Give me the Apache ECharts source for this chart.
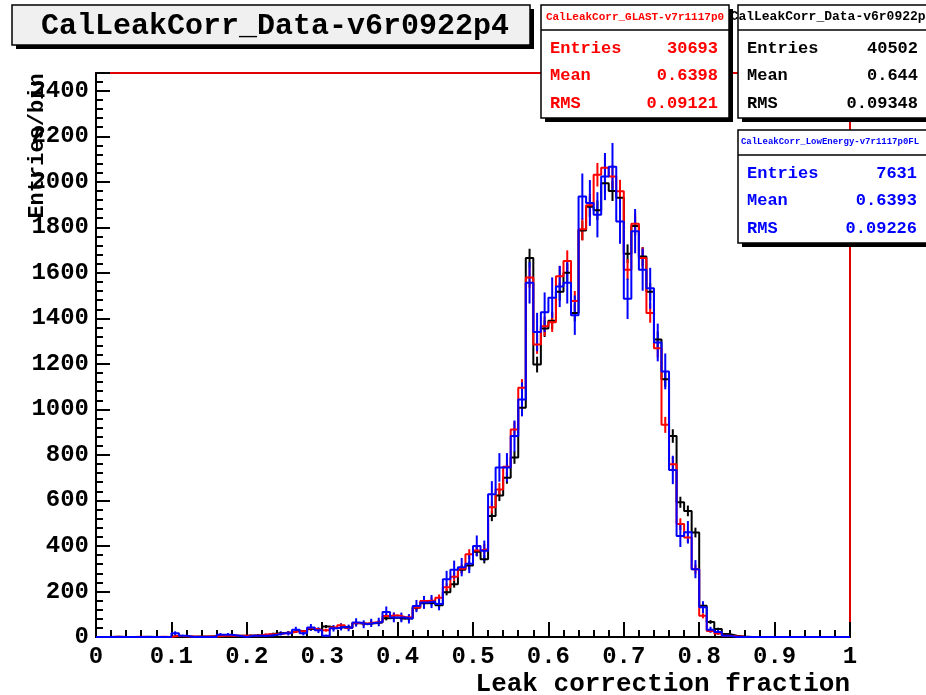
<!DOCTYPE html>
<html>
<head>
<meta charset="utf-8">
<script src="https://cdn.jsdelivr.net/npm/echarts@6/dist/echarts.min.js"></script>
<style>
  html, body { margin: 0; padding: 0; background: #fff; }
  #chart { width: 926px; height: 695px; }
</style>
</head>
<body>
<div id="chart"></div>
<script>
// 100 bins of 0.01 from 0 to 1, counts scaled to the Data histogram
const binWidth = 0.01;

// black: CalLeakCorr_Data-v6r0922p4
const dataV6 = [
  0, 0, 1, 0, 0, 0, 1, 0, 0, 1,
  3, 2, 1, 2, 2, 3, 4, 6, 5, 6,
  7, 8, 10, 15, 18, 20, 28, 24, 35, 32,
  46, 38, 44, 42, 60, 58, 60, 64, 82, 86,
  80, 82, 128, 148, 150, 140, 197, 232, 296, 314,
  375, 342, 532, 622, 700, 789, 1007, 1665, 1197, 1355,
  1390, 1517, 1600, 1424, 1786, 1890, 1875, 1994, 1960, 1930,
  1684, 1806, 1672, 1517, 1307, 1133, 883, 592, 554, 459,
  137, 66, 35, 13, 6, 2, 0, 0, 0, 0,
  0, 0, 0, 0, 0, 0, 0, 0, 0, 0
];

// red: CalLeakCorr_GLAST-v7r1117p0
const glastV7 = [
  0, 0, 1, 0, 0, 1, 0, 0, 1, 0,
  5, 3, 2, 1, 2, 2, 5, 5, 6, 5,
  6, 8, 12, 12, 15, 20, 25, 25, 38, 30,
  30, 42, 52, 40, 62, 58, 64, 66, 92, 96,
  88, 86, 130, 158, 160, 172, 219, 265, 300, 364,
  380, 386, 570, 648, 748, 912, 1095, 1580, 1285, 1365,
  1383, 1585, 1652, 1476, 1791, 1897, 2031, 2062, 2023, 1958,
  1614, 1816, 1665, 1424, 1269, 932, 759, 496, 437, 298,
  93, 26, 15, 6, 3, 1, 0, 0, 0, 0,
  0, 0, 0, 0, 0, 0, 0, 0, 0, 0
];

// blue: CalLeakCorr_LowEnergy-v7r1117p0FL
const lowEnergyV7 = [
  0, 0, 0, 0, 0, 0, 0, 0, 0, 0,
  16, 5, 0, 0, 0, 0, 10, 10, 5, 0,
  5, 5, 5, 10, 16, 16, 32, 16, 42, 30,
  5, 38, 44, 40, 64, 56, 62, 66, 110, 86,
  86, 80, 136, 152, 156, 145, 254, 296, 307, 322,
  400, 379, 627, 745, 745, 883, 1044, 1556, 1340, 1427,
  1491, 1540, 1556, 1414, 1935, 1907, 1855, 2023, 2066, 1826,
  1486, 1783, 1614, 1532, 1294, 1167, 734, 444, 460, 298,
  131, 32, 22, 6, 0, 0, 0, 0, 0, 0,
  0, 0, 0, 0, 0, 0, 0, 0, 0, 0
];

const histNames = ["CalLeakCorr_Data-v6r0922p4", "CalLeakCorr_GLAST-v7r1117p0", "CalLeakCorr_LowEnergy-v7r1117p0FL"];
const histColors = ["#000000", "#ff0000", "#0000ff"];
const entries = [40502, 30693, 7631];
const means = ["0.644", "0.6398", "0.6393"];
const rmsValues = ["0.09348", "0.09121", "0.09226"];

const xTickLabels = ["0", "0.1", "0.2", "0.3", "0.4", "0.5", "0.6", "0.7", "0.8", "0.9", "1"];
const yMax = 2478;

const FONT = "Liberation Mono";

var chart = echarts.init(document.getElementById("chart"), null, { renderer: "canvas" });

function stepData(values) {
  var pts = [];
  for (var i = 0; i < values.length; i++) {
    pts.push([i * binWidth, values[i]]);
  }
  pts.push([values.length * binWidth, values[values.length - 1]]);
  return pts;
}

// error bars: sqrt(N) of the raw counts, scaled like the histogram
function errorData(values, nEntries) {
  var scale = entries[0] / nEntries;
  var bars = [];
  for (var i = 0; i < values.length; i++) {
    if (values[i] > 0) {
      var e = Math.sqrt(values[i] * scale);
      bars.push([(i + 0.5) * binWidth, Math.max(0, values[i] - e), values[i] + e]);
    }
  }
  return bars;
}

function histSeries(values, idx) {
  var color = histColors[idx];
  return [
    {
      name: histNames[idx],
      type: "line",
      step: "end",
      data: stepData(values),
      showSymbol: false,
      lineStyle: { color: color, width: 2 },
      itemStyle: { color: color },
      clip: true,
      silent: true,
    },
    {
      name: histNames[idx] + "_err",
      type: "custom",
      data: errorData(values, entries[idx]),
      encode: { x: 0, y: [1, 2] },
      clip: true,
      silent: true,
      renderItem: function (params, api) {
        var lo = api.coord([api.value(0), api.value(1)]);
        var hi = api.coord([api.value(0), api.value(2)]);
        return {
          type: "line",
          shape: { x1: lo[0], y1: lo[1], x2: hi[0], y2: hi[1] },
          style: { stroke: color, lineWidth: 2 },
        };
      },
    },
  ];
}

var series = []
  .concat(histSeries(dataV6, 0))
  .concat(histSeries(glastV7, 1))
  .concat(histSeries(lowEnergyV7, 2));

// stats box, ROOT style with shadow
function statsBox(x, y, w, h, idx, titleSize, titleCx, valueRight) {
  var color = histColors[idx];
  var rowY = [y + 44, y + 71, y + 99];
  var labels = ["Entries", "Mean", "RMS"];
  var vals = [String(entries[idx]), means[idx], rmsValues[idx]];
  var children = [
    { type: "rect", shape: { x: x + 4, y: y + 4, width: w, height: h }, style: { fill: "#000" } },
    { type: "rect", shape: { x: x, y: y, width: w, height: h }, style: { fill: "#fff", stroke: "#000", lineWidth: 1.5 } },
    { type: "line", shape: { x1: x, y1: y + 25, x2: x + w, y2: y + 25 }, style: { stroke: "#000", lineWidth: 1.5 } },
    {
      type: "text",
      x: titleCx,
      y: y + 12,
      style: { text: histNames[idx], fill: color, font: "bold " + titleSize + "px " + FONT, align: "center", verticalAlign: "middle" },
    },
  ];
  for (var i = 0; i < 3; i++) {
    children.push({
      type: "text",
      x: x + 9,
      y: rowY[i],
      style: { text: labels[i], fill: color, font: "bold 17px " + FONT, align: "left", verticalAlign: "middle" },
    });
    children.push({
      type: "text",
      x: valueRight,
      y: rowY[i],
      style: { text: vals[i], fill: color, font: "bold 17px " + FONT, align: "right", verticalAlign: "middle" },
    });
  }
  return { type: "group", children: children };
}

var option = {
  animation: false,
  backgroundColor: "#ffffff",
  grid: {
    left: 96,
    right: 76,
    top: 73,
    bottom: 58,
    show: true,
    borderColor: "#e00000",
    borderWidth: 2,
    backgroundColor: "transparent",
  },
  xAxis: {
    type: "value",
    min: 0,
    max: 1,
    interval: 0.1,
    axisLine: { onZero: false, lineStyle: { color: "#000", width: 2 } },
    axisTick: { inside: true, length: 15, lineStyle: { color: "#000", width: 2 } },
    minorTick: { show: true, splitNumber: 5, length: 7, lineStyle: { color: "#000", width: 2 } },
    splitLine: { show: false },
    axisLabel: {
      margin: 8,
      color: "#000",
      fontFamily: FONT,
      fontWeight: "bold",
      fontSize: 24,
      formatter: function (v) {
        return xTickLabels[Math.round(v * 10)];
      },
    },
  },
  yAxis: {
    type: "value",
    min: 0,
    max: yMax,
    interval: 200,
    axisLine: { lineStyle: { color: "#000", width: 2 } },
    axisTick: { inside: true, length: 14, lineStyle: { color: "#000", width: 2 } },
    minorTick: { show: true, splitNumber: 5, length: 7, lineStyle: { color: "#000", width: 2 } },
    splitLine: { show: false },
    axisLabel: {
      margin: 7,
      color: "#000",
      fontFamily: FONT,
      fontWeight: "bold",
      fontSize: 24,
      showMaxLabel: false,
      formatter: function (v) {
        return v % 200 === 0 ? String(v) : "";
      },
    },
  },
  graphic: [
    // histogram title
    { type: "rect", shape: { x: 16, y: 9, width: 518, height: 40 }, style: { fill: "#000" } },
    { type: "rect", shape: { x: 12, y: 5, width: 518, height: 40 }, style: { fill: "#f0f0f0", stroke: "#000", lineWidth: 1.5 } },
    {
      type: "text",
      x: 275,
      y: 26,
      style: { text: histNames[0], fill: "#000", font: "bold 30px " + FONT, align: "center", verticalAlign: "middle" },
    },
    statsBox(738, 5, 200, 113, 0, 13, 832, 918),
    statsBox(541, 5, 188, 113, 1, 11, 635, 718),
    statsBox(738, 130, 200, 113, 2, 9, 830, 917),
    // axis titles
    {
      type: "text",
      x: 37,
      y: 146,
      rotation: Math.PI / 2,
      style: { text: "Entries/bin", fill: "#000", font: "bold 22px " + FONT, align: "center", verticalAlign: "middle" },
    },
    {
      type: "text",
      x: 850,
      y: 684,
      style: { text: "Leak correction fraction", fill: "#000", font: "bold 26px " + FONT, align: "right", verticalAlign: "middle" },
    },
  ],
  series: series,
};

chart.setOption(option);

window.addEventListener("resize", function () {
  chart.resize();
});
</script>
</body>
</html>
